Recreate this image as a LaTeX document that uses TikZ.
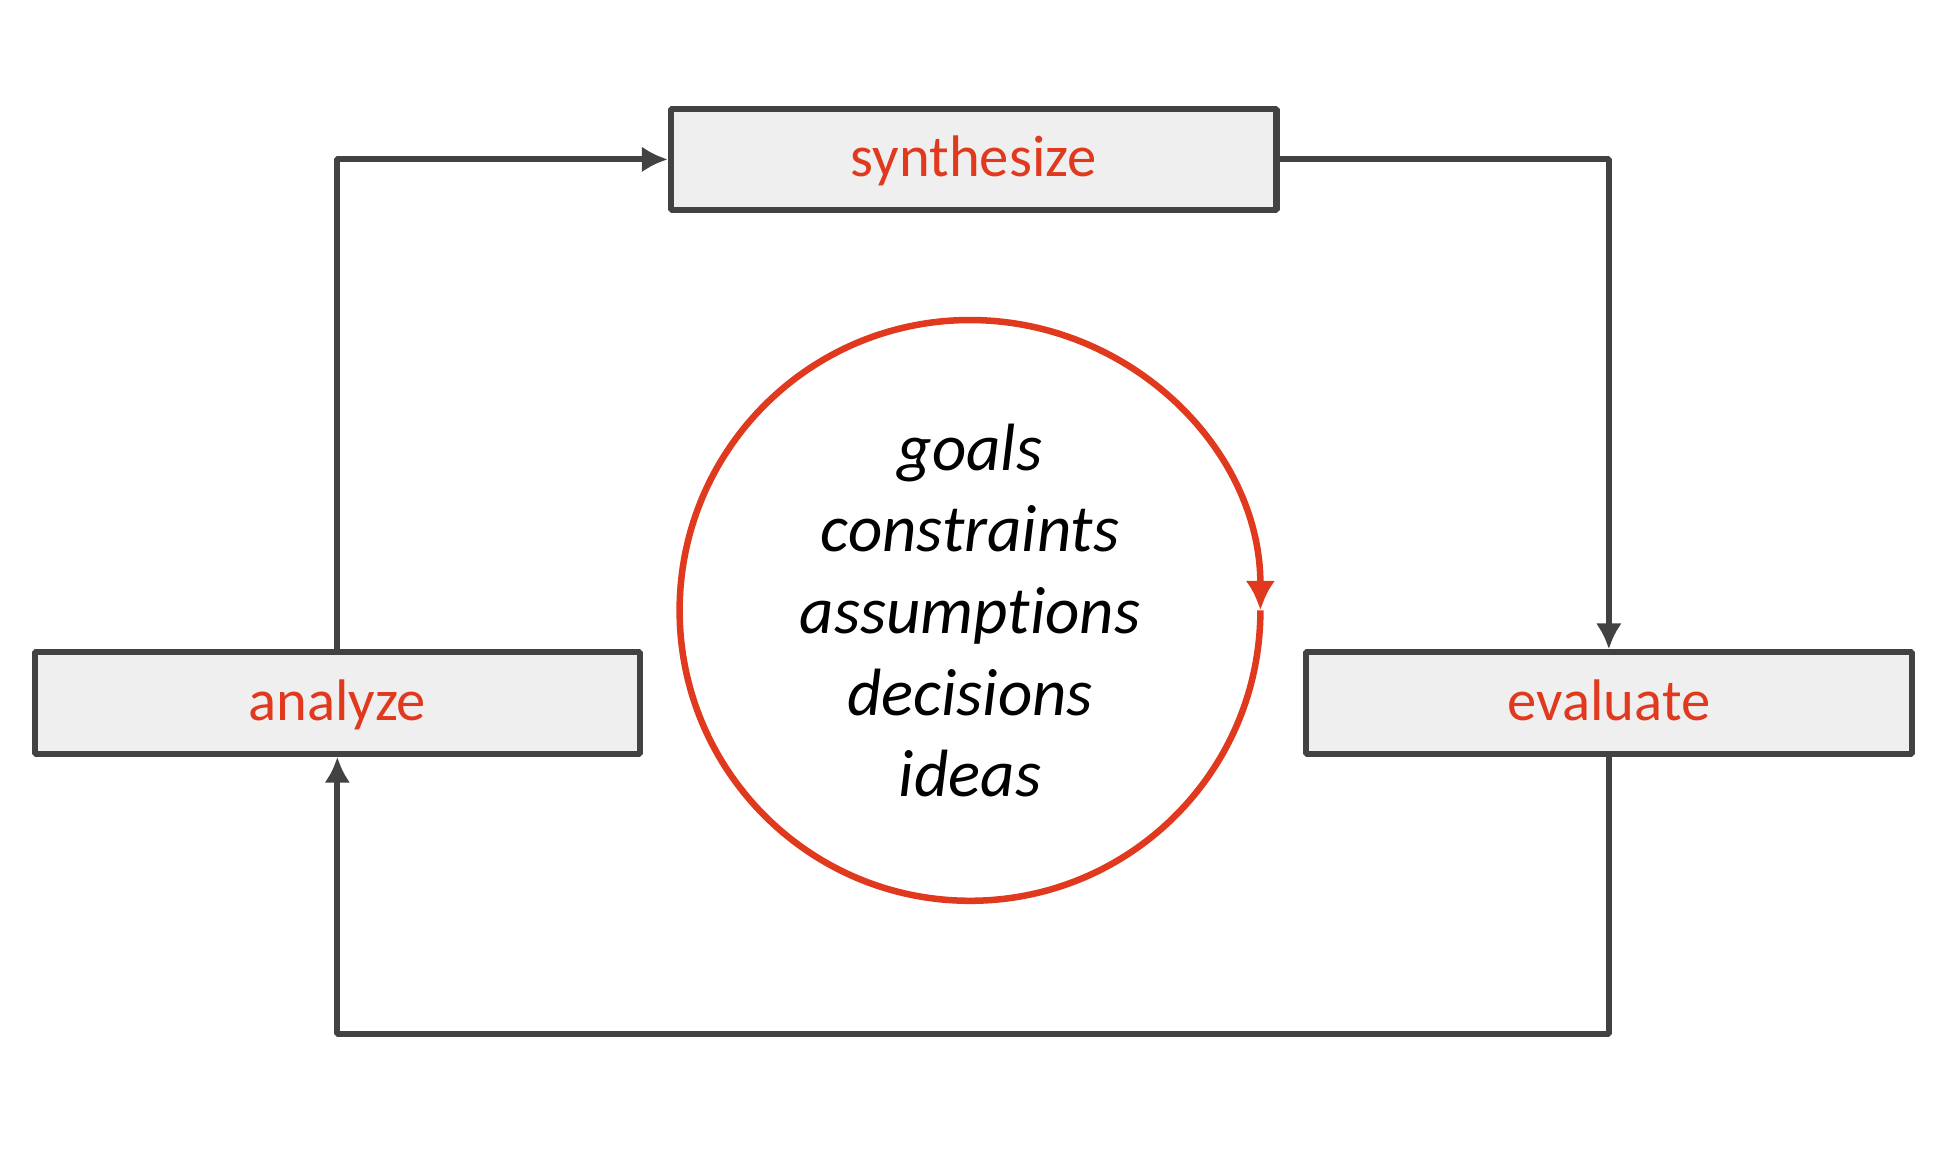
\documentclass[tikz,border=0pt]{standalone}
\usepackage{fontspec}
\setmainfont{Carlito}[Ligatures=NoCommon]
\usetikzlibrary{positioning,arrows.meta}
\definecolor{boxred}{HTML}{E0391E}
\definecolor{linegray}{HTML}{424242}
\definecolor{boxfill}{HTML}{EFEFEF}
\tikzset{
  stagebox/.style={draw=linegray,line width=1.4pt,fill=boxfill,minimum width=4.9cm,minimum height=0.82cm,
    text=boxred,font=\fontsize{13.5}{16}\selectfont,text height=0.88em,text depth=0.08em},
}

\begin{document}
\begin{tikzpicture}[>={Latex[length=2.1mm,width=2.1mm]},line join=bevel,]
  \useasboundingbox (0,0) rectangle (15.7,9.32);

  \node (node_0) at (7.88,8.03) [stagebox] {synthesize};
  \node (node_1) at (2.73,3.63) [stagebox] {analyze};
  \node (node_2) at (13.02,3.63) [stagebox] {evaluate};
  \node (node_3) at (7.85,4.38) [align=center,font=\fontsize{15.4}{18.8}\selectfont\itshape] {goals\\constraints\\assumptions\\decisions\\ideas};

  \draw [linegray,line width=1.4pt,->] (node_1.north) |- (node_0.west);
  \draw [linegray,line width=1.4pt,->] (node_0.east) -| (node_2.north);
  \draw [linegray,line width=1.4pt,->] (node_2.south) -- ++(0,-2.24) -| (node_1.south);
  %
  \draw [boxred,line width=1.5pt,-{Latex[length=2.4mm,width=2.4mm]}] ([shift={(90:2.35)}]node_3.center) arc[start angle=90,end angle=0,radius=2.35];
  \draw [boxred,line width=1.5pt] ([shift={(0:2.35)}]node_3.center) arc[start angle=0,end angle=-270,radius=2.35];
%
\end{tikzpicture}
\end{document}
